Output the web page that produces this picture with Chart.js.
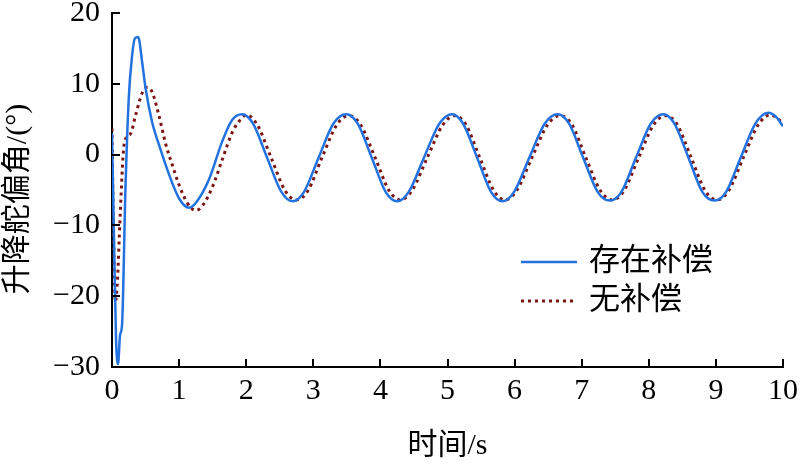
<!DOCTYPE html>
<html>
<head>
<meta charset="utf-8">
<script src="https://cdn.jsdelivr.net/npm/chart.js@4.4.1/dist/chart.umd.min.js"></script>
<style>
  html, body { margin: 0; padding: 0; background: #fff; }
  #wrap { width: 800px; height: 464px; }
</style>
</head>
<body>
<div id="wrap"><canvas id="c" width="800" height="464"></canvas></div>
<script>
// ---- data ----
const seriesLabels = ["存在补偿", "无补偿"];
const xTicks = [0, 1, 2, 3, 4, 5, 6, 7, 8, 9, 10];
const yTicks = [-30, -20, -10, 0, 10, 20];
const xTitle = "时间/s";
const yTitle = "升降舵偏角/(°)";

// with compensation
const compT = [0, 0.03, 0.06, 0.09, 0.12, 0.15, 0.2, 0.25, 0.3, 0.34, 0.39, 0.45, 0.5, 0.6, 0.7, 0.85, 1.0, 1.15, 1.25, 1.45, 1.64, 1.79,
  1.94, 2.1, 2.31, 2.52, 2.69, 2.86, 3.08, 3.3, 3.49, 3.66, 3.87, 4.08, 4.25, 4.42, 4.65, 4.88, 5.07, 5.23, 5.44, 5.65, 5.82,
  5.99, 6.22, 6.45, 6.64, 6.81, 7.02, 7.24, 7.42, 7.59, 7.81, 8.03, 8.22, 8.38, 8.59, 8.8, 8.98, 9.15, 9.37, 9.59, 9.78, 9.9, 10];
const compY = [3, -12, -26, -29.6, -25.5, -24, -5, 8, 14, 16.4, 16.6, 13, 9.4, 4.5, 1.4, -2.8, -6.2, -7.5, -6.8, -3.4, 1.8, 4.9,
  5.7, 4.4, -0.4, -5.2, -6.6, -5.3, -0.4, 4.4, 5.7, 4.4, -0.4, -5.3, -6.6, -5.3, -0.4, 4.4, 5.7, 4.4, -0.4, -5.3, -6.6,
  -5.3, -0.4, 4.4, 5.7, 4.4, -0.4, -5.3, -6.5, -5.3, -0.4, 4.4, 5.7, 4.4, -0.4, -5.3, -6.5, -5.3, -0.4, 4.4, 5.9, 5.3, 4.0];

// without compensation
const noCompT = [0, 0.02, 0.05, 0.08, 0.12, 0.17, 0.22, 0.28, 0.35, 0.45, 0.53, 0.6, 0.7, 0.8, 0.9, 1.0, 1.12, 1.25, 1.35, 1.5, 1.65, 1.8, 1.92,
  2.0, 2.16, 2.37, 2.58, 2.75, 2.92, 3.13, 3.35, 3.53, 3.7, 3.92, 4.13, 4.3, 4.47, 4.7, 4.93, 5.11, 5.27, 5.48, 5.69, 5.86,
  6.03, 6.26, 6.49, 6.68, 6.85, 7.06, 7.28, 7.46, 7.63, 7.85, 8.07, 8.25, 8.42, 8.63, 8.84, 9.02, 9.19, 9.41, 9.63, 9.81, 9.92, 10];
const noCompY = [3.7, -10, -20.8, -18, -9, 0.5, 2.5, 3, 5.5, 8.7, 9.5, 8.8, 5.5, 1.5, -1.5, -4.3, -6.8, -7.9, -7.2, -4.5, -0.5, 3.3, 5.0,
  5.6, 4.3, -0.4, -5.1, -6.4, -5.1, -0.4, 4.2, 5.5, 4.3, -0.4, -5.1, -6.4, -5.1, -0.4, 4.2, 5.5, 4.3, -0.4, -5.1, -6.4,
  -5.1, -0.4, 4.2, 5.5, 4.3, -0.4, -5.1, -6.4, -5.1, -0.4, 4.2, 5.5, 4.3, -0.4, -5.1, -6.4, -5.1, -0.4, 4.2, 5.6, 5.1, 4.4];

const pts = (ts, ys) => ts.map((t, i) => ({ x: t, y: ys[i] }));

const SERIF = "'Liberation Serif', 'Noto Sans CJK SC', serif";

// inward ticks, y title and legend inside the plot
const extras = {
  id: "extras",
  afterDraw(chart) {
    const { ctx, scales } = chart;
    const xs = scales.x, ys = scales.y;
    const area = chart.chartArea;
    ctx.save();
    ctx.strokeStyle = "#000";
    ctx.lineWidth = 2;
    ctx.beginPath();
    xTicks.forEach(v => {
      const px = Math.round(xs.getPixelForValue(v));
      ctx.moveTo(px, area.bottom);
      ctx.lineTo(px, area.bottom - 8);
    });
    yTicks.forEach(v => {
      const py = Math.round(ys.getPixelForValue(v));
      ctx.moveTo(area.left, py);
      ctx.lineTo(area.left + 8, py);
    });
    ctx.stroke();

    // y title (a bit below chart-area centre, as in the original)
    ctx.save();
    ctx.translate(18, 199);
    ctx.rotate(-Math.PI / 2);
    ctx.fillStyle = "#000";
    ctx.font = "30px " + SERIF;
    ctx.textAlign = "center";
    ctx.textBaseline = "middle";
    ctx.fillText(yTitle, 0, 0);
    ctx.restore();

    // legend
    const lx = 521, ly = [262, 301];
    chart.data.datasets.forEach((ds, i) => {
      ctx.beginPath();
      ctx.strokeStyle = ds.borderColor;
      ctx.lineWidth = ds.borderWidth;
      ctx.setLineDash(ds.borderDash || []);
      ctx.moveTo(lx, ly[i]);
      ctx.lineTo(lx + 56, ly[i]);
      ctx.stroke();
      ctx.setLineDash([]);
      ctx.fillStyle = "#000";
      ctx.font = "31px " + SERIF;
      ctx.textBaseline = "middle";
      ctx.fillText(ds.label, lx + 68, ly[i]);
    });
    ctx.restore();
  }
};

new Chart(document.getElementById("c"), {
  type: "line",
  data: {
    datasets: [
      {
        label: seriesLabels[0],
        data: pts(compT, compY),
        borderColor: "#2272e0",
        borderWidth: 2.5,
        pointRadius: 0,
        cubicInterpolationMode: "monotone",
        fill: false
      },
      {
        label: seriesLabels[1],
        data: pts(noCompT, noCompY),
        borderColor: "#7d1414",
        borderWidth: 3,
        borderDash: [3, 4],
        pointRadius: 0,
        cubicInterpolationMode: "monotone",
        fill: false
      }
    ]
  },
  options: {
    animation: false,
    responsive: false,
    devicePixelRatio: 1,
    layout: { padding: { top: 13, right: 17, left: 0, bottom: 0 } },
    plugins: { legend: { display: false }, tooltip: { enabled: false } },
    scales: {
      x: {
        type: "linear",
        min: 0, max: 10,
        afterBuildTicks: s => { s.ticks = xTicks.map(v => ({ value: v })); },
        afterFit: s => { s.height = 97; s.paddingLeft = 0; s.paddingRight = 0; },
        grid: { display: false, drawTicks: false },
        border: { display: true, color: "#000", width: 2 },
        ticks: { color: "#000", font: { family: SERIF, size: 30 }, padding: 6, maxRotation: 0 },
        title: { display: true, text: xTitle, color: "#000", font: { family: SERIF, size: 30 }, padding: { top: 4, bottom: 0 } }
      },
      y: {
        min: -30, max: 20,
        afterBuildTicks: s => { s.ticks = yTicks.map(v => ({ value: v })); },
        afterFit: s => { s.width = 112; s.paddingTop = 0; s.paddingBottom = 0; },
        grid: { display: false, drawTicks: false },
        border: { display: true, color: "#000", width: 2 },
        ticks: { color: "#000", font: { family: SERIF, size: 30 }, padding: 12,
          callback: v => v < 0 ? "\u2212" + Math.abs(v) : String(v) },
        title: { display: false }
      }
    }
  },
  plugins: [extras]
});
</script>
</body>
</html>
